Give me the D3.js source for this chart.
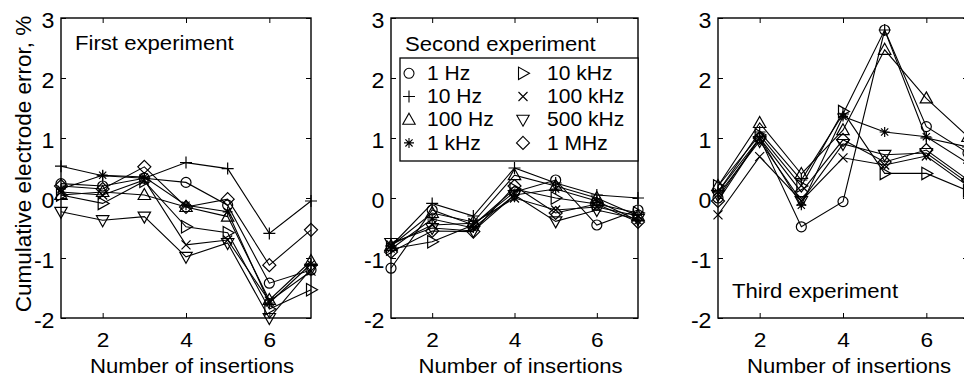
<!DOCTYPE html>
<html>
<head>
<meta charset="utf-8">
<script src="https://cdn.jsdelivr.net/npm/d3@7"></script>
<style>
  body { margin: 0; background: #fff; }
  text { font-family: "Liberation Sans", Arial, sans-serif; fill: #000; }
</style>
</head>
<body>
<svg id="chart"></svg>
<script>
const width = 964, height = 378;

const insertions = [1, 2, 3, 4, 5, 6, 7];
const freqs = ["1 Hz", "10 Hz", "100 Hz", "1 kHz", "10 kHz", "100 kHz", "500 kHz", "1 MHz"];
const markers = ["circle", "plus", "triUp", "star", "triRight", "cross", "triDown", "diamond"];
const experiments = ["First experiment", "Second experiment", "Third experiment"];
const xTicks = [2, 4, 6];
const yTicks = [-2, -1, 0, 1, 2, 3];

// cumulative electrode error (%), one row per frequency (same order as freqs)
const firstExp = [
  [0.24, 0.20, 0.33, 0.26, -0.12, -1.42, -1.20],
  [0.53, 0.37, 0.33, 0.59, 0.49, -0.59, -0.05],
  [0.05, 0.10, 0.05, -0.15, -0.31, -1.70, -1.05],
  [0.15, 0.38, 0.35, -0.12, -0.23, -1.75, -1.10],
  [0.05, -0.09, 0.28, -0.48, -0.58, -1.85, -1.53],
  [0.10, 0.05, 0.30, -0.78, -0.70, -1.72, -1.22],
  [-0.23, -0.37, -0.31, -0.98, -0.75, -2.00, -1.18],
  [0.20, 0.15, 0.52, -0.15, -0.02, -1.12, -0.53]
];
const secondExp = [
  [-1.17, -0.20, -0.45, 0.10, 0.30, -0.45, -0.20],
  [-0.80, -0.09, -0.30, 0.50, 0.25, 0.05, 0.00],
  [-0.80, -0.25, -0.40, 0.38, 0.20, 0.00, -0.30],
  [-0.85, -0.35, -0.50, 0.05, 0.15, -0.05, -0.38],
  [-0.85, -0.73, -0.45, 0.15, 0.00, -0.10, -0.25],
  [-0.78, -0.45, -0.42, 0.00, -0.20, -0.15, -0.30],
  [-0.75, -0.50, -0.55, 0.05, -0.39, -0.20, -0.35],
  [-0.90, -0.55, -0.56, 0.20, -0.25, -0.10, -0.40]
];
const thirdExp = [
  [0.00, 1.00, -0.48, -0.06, 2.80, 1.19, 0.75],
  [0.10, 1.10, 0.30, 1.40, 2.80, 1.00, 0.85],
  [0.20, 1.25, 0.40, 1.13, 2.47, 1.66, 1.02],
  [0.10, 1.00, -0.12, 1.36, 1.10, 1.02, 0.58],
  [0.20, 1.05, 0.20, 1.44, 0.41, 0.41, 0.12],
  [-0.28, 0.69, -0.05, 0.67, 0.55, 0.70, 0.20],
  [0.05, 0.95, -0.05, 0.90, 0.72, 0.75, 0.25],
  [-0.05, 1.00, 0.10, 0.97, 0.60, 0.80, 0.30]
];
const allExp = [firstExp, secondExp, thirdExp];

const plotTop = 18, plotBottom = 318;
const panels = [{left: 61, w: 250}, {left: 391, w: 247}, {left: 718, w: 250}];
const annotY = [50, 51, 298];
const stretch = "scale(1.08,1)";

let svg = d3.select("#chart")
    .attr("width", width)
    .attr("height", height)
    .attr("viewBox", [0, 0, width, height]);

svg.append("rect").attr("width", width).attr("height", height).attr("fill", "#fff");

function markerPath(type) {
    switch (type) {
        case "circle": return "M5,0A5,5 0 1,1 -5,0A5,5 0 1,1 5,0Z";
        case "plus": return "M-6,0H6M0,-6V6";
        case "triUp": return "M0,-6.5L6.2,4.5L-6.2,4.5Z";
        case "triDown": return "M0,6.5L6.2,-4.5L-6.2,-4.5Z";
        case "triRight": return "M6.5,0L-4.5,6.2L-4.5,-6.2Z";
        case "cross": return "M-4.5,-4.5L4.5,4.5M-4.5,4.5L4.5,-4.5";
        case "star": return "M-5,0H5M0,-5V5M-3.6,-3.6L3.6,3.6M-3.6,3.6L3.6,-3.6";
        case "diamond": return "M0,-6.5L6.5,0L0,6.5L-6.5,0Z";
    }
}

panels.forEach((p, i) => {
    let x = d3.scaleLinear().domain([1, 7]).range([p.left, p.left + p.w]);
    let y = d3.scaleLinear().domain([-2, 3]).range([plotBottom, plotTop]);
    let g = svg.append("g");

    // axes with inward ticks on all four sides
    let xAxis = g.append("g")
        .attr("transform", `translate(0,${plotBottom})`)
        .call(d3.axisBottom(x).tickValues(xTicks).tickSizeInner(-5).tickSizeOuter(0)
            .tickPadding(14).tickFormat(d => String(d)));
    g.append("g")
        .attr("transform", `translate(0,${plotTop})`)
        .call(d3.axisTop(x).tickValues(xTicks).tickSizeInner(-5).tickSizeOuter(0).tickFormat(""));
    let yAxis = g.append("g")
        .attr("transform", `translate(${p.left},0)`)
        .call(d3.axisLeft(y).tickValues(yTicks).tickSizeInner(-5).tickSizeOuter(0)
            .tickPadding(6).tickFormat(d => String(d)));
    g.append("g")
        .attr("transform", `translate(${p.left + p.w},0)`)
        .call(d3.axisRight(y).tickValues(yTicks).tickSizeInner(-5).tickSizeOuter(0).tickFormat(""));

    g.selectAll(".domain").remove();
    g.selectAll(".tick line").attr("stroke", "#000").attr("stroke-width", 1);

    xAxis.selectAll("text").style("font-size", "21px").attr("transform", stretch);
    yAxis.selectAll("text").style("font-size", "21.5px").attr("dy", "0.42em").attr("transform", stretch);

    g.append("rect")
        .attr("x", p.left).attr("y", plotTop)
        .attr("width", p.w).attr("height", plotBottom - plotTop)
        .attr("fill", "none").attr("stroke", "#000").attr("stroke-width", 1.4);

    let line = d3.line().x((d, j) => x(insertions[j])).y(d => y(d));

    allExp[i].forEach((series, k) => {
        g.append("path")
            .datum(series)
            .attr("d", line)
            .attr("fill", "none")
            .attr("stroke", "#000")
            .attr("stroke-width", 1.1);

        g.selectAll(null)
            .data(series)
            .join("path")
            .attr("transform", (d, j) => `translate(${x(insertions[j])},${y(d)})`)
            .attr("d", markerPath(markers[k]))
            .attr("fill", "none")
            .attr("stroke", "#000")
            .attr("stroke-width", 1.2);
    });

    // panel title
    g.append("text")
        .attr("transform", `translate(${p.left + 14},${annotY[i]}) ${stretch}`)
        .style("font-size", "20.5px")
        .text(experiments[i]);

    // x label
    g.append("text")
        .attr("transform", `translate(${p.left + p.w / 2 + 6},373) ${stretch}`)
        .style("text-anchor", "middle")
        .style("font-size", "20.5px")
        .text("Number of insertions");

    if (i === 0) {
        g.append("text")
            .attr("transform", `translate(31,164) rotate(-90)`)
            .style("text-anchor", "middle")
            .style("font-size", "22.5px")
            .text("Cumulative electrode error, %");
    }

    if (i === 1) {
        let legend = g.append("g");
        legend.append("rect")
            .attr("x", 400).attr("y", 58)
            .attr("width", p.left + p.w - 400).attr("height", 103)
            .attr("fill", "#fff").attr("stroke", "#000").attr("stroke-width", 1.3);

        freqs.forEach((f, k) => {
            let col = k < 4 ? 0 : 1;
            let row = k % 4;
            let base = 80 + row * 23.2;
            legend.append("path")
                .attr("transform", `translate(${[409, 523][col]},${base - 6.7})`)
                .attr("d", markerPath(markers[k]))
                .attr("fill", "none")
                .attr("stroke", "#000")
                .attr("stroke-width", 1.1);
            legend.append("text")
                .attr("transform", `translate(${[427, 547][col]},${base}) ${stretch}`)
                .style("font-size", "19.5px")
                .text(f);
        });
    }
});
</script>
</body>
</html>
